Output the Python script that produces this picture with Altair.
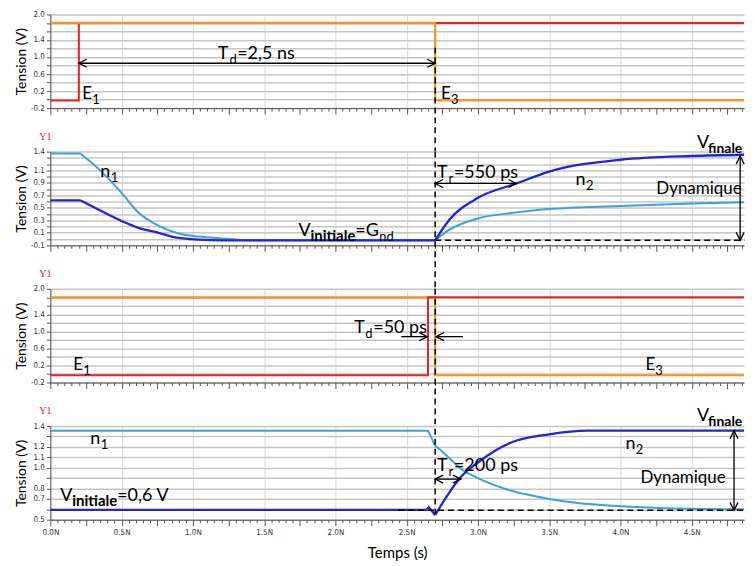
import altair as alt
import pandas as pd

# ---------------- signals (time in ns, tension in V) ----------------
p1_red_t = [0.0, 0.20, 0.20, 4.87]
p1_red_v = [-0.02, -0.02, 1.80, 1.80]
p1_orange_t = [0.0, 2.70, 2.70, 4.87]
p1_orange_v = [1.80, 1.80, -0.02, -0.02]

p2_light_a_t = [0.0, 0.21]
p2_light_a_v = [1.37, 1.37]
p2_light_b_t = [0.21, 0.34, 0.50, 0.62, 0.76, 0.90, 1.04, 1.20, 1.40, 2.70]
p2_light_b_v = [1.37, 1.12, 0.74, 0.42, 0.21, 0.09, 0.04, 0.01, -0.02, -0.02]
p2_light_c_t = [2.70, 2.80, 3.00, 3.25, 3.50, 4.00, 4.50, 4.87]
p2_light_c_v = [-0.02, 0.15, 0.33, 0.42, 0.48, 0.53, 0.57, 0.59]
p2_dark_a_t = [0.0, 0.21]
p2_dark_a_v = [0.62, 0.62]
p2_dark_b_t = [0.21, 0.34, 0.50, 0.62, 0.76, 0.85, 1.04, 1.20, 2.70]
p2_dark_b_v = [0.62, 0.47, 0.29, 0.18, 0.10, 0.04, -0.01, -0.02, -0.02]
p2_dark_c_t = [2.70, 2.80, 3.00, 3.27, 3.50, 4.00, 4.50, 4.87]
p2_dark_c_v = [-0.02, 0.31, 0.66, 0.89, 1.08, 1.27, 1.33, 1.35]

p3_orange_t = [0.0, 2.70, 2.70, 4.87]
p3_orange_v = [1.80, 1.80, -0.03, -0.03]
p3_red_t = [0.0, 2.65, 2.65, 4.87]
p3_red_v = [-0.03, -0.03, 1.80, 1.80]

p4_light_a_t = [0.0, 2.65, 2.70]
p4_light_a_v = [1.355, 1.355, 1.21]
p4_light_b_t = [2.70, 2.77, 2.88, 3.00, 3.23, 3.50, 3.70, 4.00, 4.50, 4.87]
p4_light_b_v = [1.21, 1.13, 0.99, 0.90, 0.78, 0.70, 0.66, 0.63, 0.605, 0.60]
p4_dark_a_t = [0.0, 2.64, 2.655, 2.70]
p4_dark_a_v = [0.595, 0.595, 0.62, 0.545]
p4_dark_b_t = [2.70, 2.77, 2.88, 3.00, 3.23, 3.50, 3.77, 4.87]
p4_dark_b_v = [0.545, 0.70, 0.91, 1.05, 1.24, 1.32, 1.355, 1.355]

# ---------------- annotations (text, t, v, font size) ----------------
p1_txt = ["T", "=2,5 ns", "E", "E"]
p1_txt_t = [1.175, 1.311, 0.224, 2.741]
p1_txt_v = [0.947, 0.947, 0.022, 0.022]
p1_txt_fs = [18, 18, 17, 17]
p1_sub = ["d", "1", "3"]
p1_sub_t = [1.257, 0.294, 2.811]
p1_sub_v = [0.947, 0.022, 0.022]
p1_seg = {"t": [0.20], "t2": [2.70], "v": [0.853], "v2": [0.853]}
p1_heads = {"t": [0.20, 2.70], "v": [0.853, 0.853], "d": ["L", "R"]}

p2_txt = ["n", "V", "=G", "T", "=550 ps", "n", "V", "Dynamique"]
p2_txt_t = [0.35, 1.741, 2.14, 2.713, 2.832, 3.685, 4.538, 4.252]
p2_txt_v = [1.00, 0.044, 0.044, 0.985, 0.985, 0.873, 1.464, 0.714]
p2_txt_fs = [18, 18, 18, 18, 18, 18, 18, 17]
p2_sub = ["1", "nd", "r", "2"]
p2_sub_t = [0.423, 2.308, 2.794, 3.759]
p2_sub_v = [1.00, 0.044, 0.985, 0.873]
p2_bsub = ["initiale", "finale"]
p2_bsub_t = [1.825, 4.615]
p2_bsub_v = [0.044, 1.464]
p2_bsub_fs = [15, 14]
p2_seg = {"t": [2.70, 4.84], "t2": [3.27, 4.84], "v": [0.89, -0.02], "v2": [0.89, 1.33]}
p2_heads = {"t": [2.70, 3.27, 4.84, 4.84], "v": [0.89, 0.89, 1.33, -0.02], "d": ["L", "R", "U", "D"]}
p2_dash = {"t": [2.70], "t2": [4.87], "v": [-0.02], "v2": [-0.02]}

p3_txt = ["T", "=50 ps", "E", "E"]
p3_txt_t = [2.133, 2.266, 0.161, 4.175]
p3_txt_v = [0.97, 0.97, 0.104, 0.104]
p3_txt_fs = [18, 18, 17, 17]
p3_sub = ["d", "1", "3"]
p3_sub_t = [2.21, 0.231, 4.245]
p3_sub_v = [0.97, 0.104, 0.104]
p3_seg = {"t": [2.462, 2.895], "t2": [2.645, 2.706], "v": [0.877, 0.877], "v2": [0.877, 0.877]}
p3_heads = {"t": [2.645, 2.706], "v": [0.877, 0.877], "d": ["R", "L"]}

p4_txt = ["n", "V", "=0,6 V", "T", "=200 ps", "n", "V", "Dynamique"]
p4_txt_t = [0.28, 0.07, 0.469, 2.713, 2.832, 4.035, 4.538, 4.14]
p4_txt_v = [1.228, 0.682, 0.682, 0.969, 0.969, 1.18, 1.448, 0.854]
p4_txt_fs = [18, 18, 18, 18, 18, 18, 18, 17]
p4_sub = ["1", "r", "2"]
p4_sub_t = [0.353, 2.794, 4.108]
p4_sub_v = [1.228, 0.969, 1.18]
p4_bsub = ["initiale", "finale"]
p4_bsub_t = [0.154, 4.615]
p4_bsub_v = [0.682, 1.448]
p4_bsub_fs = [15, 14]
p4_seg = {"t": [2.70, 4.797], "t2": [2.88, 4.797], "v": [0.89, 0.59], "v2": [0.89, 1.355]}
p4_heads = {"t": [2.70, 2.88, 4.797, 4.797], "v": [0.89, 0.89, 1.355, 0.59], "d": ["L", "R", "U", "D"]}
p4_dash = {"t": [2.44], "t2": [4.87], "v": [0.59], "v2": [0.59]}

# vertical dashed marker (t = 2.7 ns): starts in panel 1, ends in panel 4
vmark_t = [2.70]
vmark_start_v = [1.22]
vmark_end_v = [0.55]

# axis tick values / labels
XVALS = [round(0.05 * i, 2) for i in range(98)]
Y13_VALS = [-0.2, 0.0, 0.2, 0.4, 0.6, 0.8, 1.0, 1.2, 1.4, 1.6, 1.8, 2.0]
Y13_LABS = [2.0, 1.4, 1.0, 0.6, 0.2, -0.2]
Y2_VALS = [-0.1, 0.0, 0.1, 0.2, 0.3, 0.4, 0.5, 0.6, 0.7, 0.8, 0.9, 1.0, 1.1, 1.2, 1.3, 1.4]
Y2_LABS = [1.4, 1.1, 0.9, 0.7, 0.5, 0.3, 0.1, -0.1]
Y4_VALS = [0.5, 0.6, 0.7, 0.8, 0.9, 1.0, 1.1, 1.2, 1.3, 1.4]
Y4_LABS = [1.4, 1.2, 1.1, 1.0, 0.8, 0.7, 0.5]

# ---------------- style ----------------
W, H, GAP = 696, 94, 43.67
RED, ORANGE, LBLUE, DBLUE = "#ee2020", "#f7941d", "#3aa2dc", "#2323d8"
GRID, VGRID, AX = "#c6c6c6", "#d8d8d8", "#555555"
NARROW = "Liberation Sans Narrow, Arial Narrow, DejaVu Sans Condensed, sans-serif"
FONT = "Lato, Open Sans, sans-serif"
XSCALE = alt.Scale(domain=[0, 4.867], nice=False, zero=False)
SHAPES = {
    "R": "M-2,-1L0,0L-2,1",
    "L": "M2,-1L0,0L2,1",
    "U": "M-1,2L0,0L1,2",
    "D": "M-1,-2L0,0L1,-2",
}

HALF = "abs(datum.value*2 - round(datum.value*2)) < 0.001"
QUARTER = "abs(datum.value*4 - round(datum.value*4)) < 0.001"


def xaxis(bottom):
    kw = dict(values=XVALS, grid=True, gridColor=VGRID, gridWidth=1,
              gridOpacity={"condition": {"test": HALF, "value": 1}, "value": 0},
              tickSize={"condition": {"test": QUARTER, "value": 6}, "value": 3},
              tickColor=AX, domainColor=AX, labelOverlap=False, labelFlush=False)
    if bottom:
        kw.update(labels=True,
                  labelExpr=HALF + " ? format(datum.value, '.1f') + 'N' : ''",
                  labelFont=NARROW, labelFontSize=8, labelColor="#333", labelPadding=3,
                  title="Temps (s)", titleFont=FONT, titleFontSize=15, titleFontWeight="normal",
                  titleColor="black", titleX=W / 2, titleY=33, titleBaseline="middle",
                  titleAlign="center")
    else:
        kw.update(labels=False, title=None)
    return alt.Axis(**kw)


def yaxis(vals, labs):
    labs10 = [int(round(v * 10)) for v in labs]
    expr = ("indexof(%s, round(datum.value*10)) >= 0 ? "
            "(datum.value < 0 ? '-' : '') + format(abs(datum.value), '.1f') : ''") % labs10
    return alt.Axis(values=vals, grid=True, gridColor=GRID, gridWidth=1.5,
                    tickSize=4, tickColor=AX, domainColor=AX, labelOverlap=False,
                    labelFont=NARROW, labelFontSize=8, labelColor="#333", labelPadding=2,
                    labelExpr=expr, title="Tension (V)", titleFont=FONT, titleFontSize=14,
                    titleFontWeight="normal", titleColor="black", titleX=-28.5, titleY=H / 2,
                    titleAlign="center", titleBaseline="middle", titleAngle=270)


def text_layer(X, Y, texts, ts, vs, sizes, dy=0, bold=False):
    df = pd.DataFrame({"t": ts, "v": vs, "s": texts, "fs": sizes})
    return (alt.Chart(df)
            .mark_text(align="left", baseline="alphabetic", font=FONT, dy=dy, color="black",
                       fontWeight="bold" if bold else "normal")
            .encode(x=X, y=Y, text="s:N", size=alt.Size("fs:Q", scale=None, legend=None)))


def panel(ydom, yvals, ylabs, bottom, lines, txt, sub, bsub, seg, heads, dash, vrule, y1):
    ysc = alt.Scale(domain=ydom, nice=False, zero=False)
    X = alt.X("t:Q", scale=XSCALE, axis=xaxis(bottom))
    Y = alt.Y("v:Q", scale=ysc, axis=yaxis(yvals, ylabs))
    layers = []
    for (t, v, col, sw, interp) in lines:
        df = pd.DataFrame({"t": t, "v": v, "i": list(range(len(t)))})
        layers.append(alt.Chart(df).mark_line(color=col, strokeWidth=sw, clip=True,
                                              interpolate=interp)
                      .encode(x=X, y=Y, order="i:Q"))
    if dash is not None:
        layers.append(alt.Chart(pd.DataFrame(dash)).mark_rule(color="black", strokeWidth=1.5,
                                                               strokeDash=[6, 4])
                      .encode(x=X, x2="t2:Q", y=Y, y2="v2:Q"))
    # vertical dashed marker
    kind, val = vrule
    rule = alt.Chart(pd.DataFrame({"t": vmark_t, "v": val if val else [0]})).mark_rule(
        color="black", strokeWidth=1.5, strokeDash=[6, 4])
    if kind == "start":
        layers.append(rule.encode(x=X, y=Y, y2=alt.value(H + GAP)))
    elif kind == "end":
        layers.append(rule.encode(x=X, y=Y, y2=alt.value(0)))
    else:
        layers.append(rule.encode(x=X, y=alt.value(0), y2=alt.value(H + GAP)))
    # arrows
    layers.append(alt.Chart(pd.DataFrame(seg)).mark_rule(color="black", strokeWidth=1.3)
                  .encode(x=X, x2="t2:Q", y=Y, y2="v2:Q"))
    hd = pd.DataFrame(heads)
    for d, path in SHAPES.items():
        sub_df = hd[hd["d"] == d]
        if len(sub_df):
            layers.append(alt.Chart(sub_df).mark_point(shape=path, filled=False, size=64,
                                                       stroke="black", strokeWidth=1.3, opacity=1)
                          .encode(x=X, y=Y))
    # texts
    layers.append(text_layer(X, Y, *txt))
    s_txt, s_t, s_v = sub
    layers.append(text_layer(X, Y, s_txt, s_t, s_v, [13] * len(s_txt), dy=5))
    if bsub is not None:
        layers.append(text_layer(X, Y, *bsub, dy=5, bold=True))
    if y1:
        layers.append(alt.Chart(pd.DataFrame({"k": [0]}))
                      .mark_text(font="Liberation Serif, DejaVu Serif, serif", fontSize=10,
                                 color="#e02020", align="center", baseline="middle")
                      .encode(x=alt.value(-5), y=alt.value(-15), text=alt.value("Y1")))
    return alt.layer(*layers).properties(width=W, height=H)


p1 = panel([-0.2, 2.0], Y13_VALS, Y13_LABS, False,
           [(p1_red_t, p1_red_v, RED, 2, "linear"),
            (p1_orange_t, p1_orange_v, ORANGE, 2.2, "linear")],
           (p1_txt, p1_txt_t, p1_txt_v, p1_txt_fs), (p1_sub, p1_sub_t, p1_sub_v), None,
           p1_seg, p1_heads, None, ("start", vmark_start_v), False)

p2 = panel([-0.1, 1.4], Y2_VALS, Y2_LABS, False,
           [(p2_light_a_t, p2_light_a_v, LBLUE, 2, "linear"),
            (p2_light_b_t, p2_light_b_v, LBLUE, 2, "monotone"),
            (p2_light_c_t, p2_light_c_v, LBLUE, 2, "monotone"),
            (p2_dark_a_t, p2_dark_a_v, DBLUE, 2.3, "linear"),
            (p2_dark_b_t, p2_dark_b_v, DBLUE, 2.3, "monotone"),
            (p2_dark_c_t, p2_dark_c_v, DBLUE, 2.3, "monotone")],
           (p2_txt, p2_txt_t, p2_txt_v, p2_txt_fs), (p2_sub, p2_sub_t, p2_sub_v),
           (p2_bsub, p2_bsub_t, p2_bsub_v, p2_bsub_fs),
           p2_seg, p2_heads, p2_dash, ("mid", None), True)

p3 = panel([-0.2, 2.0], Y13_VALS, Y13_LABS, False,
           [(p3_orange_t, p3_orange_v, ORANGE, 2.2, "linear"),
            (p3_red_t, p3_red_v, RED, 2, "linear")],
           (p3_txt, p3_txt_t, p3_txt_v, p3_txt_fs), (p3_sub, p3_sub_t, p3_sub_v), None,
           p3_seg, p3_heads, None, ("mid", None), True)

p4 = panel([0.5, 1.4], Y4_VALS, Y4_LABS, True,
           [(p4_light_a_t, p4_light_a_v, LBLUE, 2, "linear"),
            (p4_light_b_t, p4_light_b_v, LBLUE, 2, "monotone"),
            (p4_dark_a_t, p4_dark_a_v, DBLUE, 2.3, "linear"),
            (p4_dark_b_t, p4_dark_b_v, DBLUE, 2.3, "monotone")],
           (p4_txt, p4_txt_t, p4_txt_v, p4_txt_fs), (p4_sub, p4_sub_t, p4_sub_v),
           (p4_bsub, p4_bsub_t, p4_bsub_v, p4_bsub_fs),
           p4_seg, p4_heads, p4_dash, ("end", vmark_end_v), True)

chart = (alt.vconcat(p1, p2, p3, p4, spacing=GAP, bounds="flush")
         .resolve_scale(x="independent", y="independent")
         .resolve_axis(x="independent", y="independent")
         .properties(padding={"left": 6.5, "top": 1.5, "right": 0, "bottom": 0})
         .configure_view(stroke=None))

chart.save("out.html", embed_options={"renderer": "svg", "actions": False})
